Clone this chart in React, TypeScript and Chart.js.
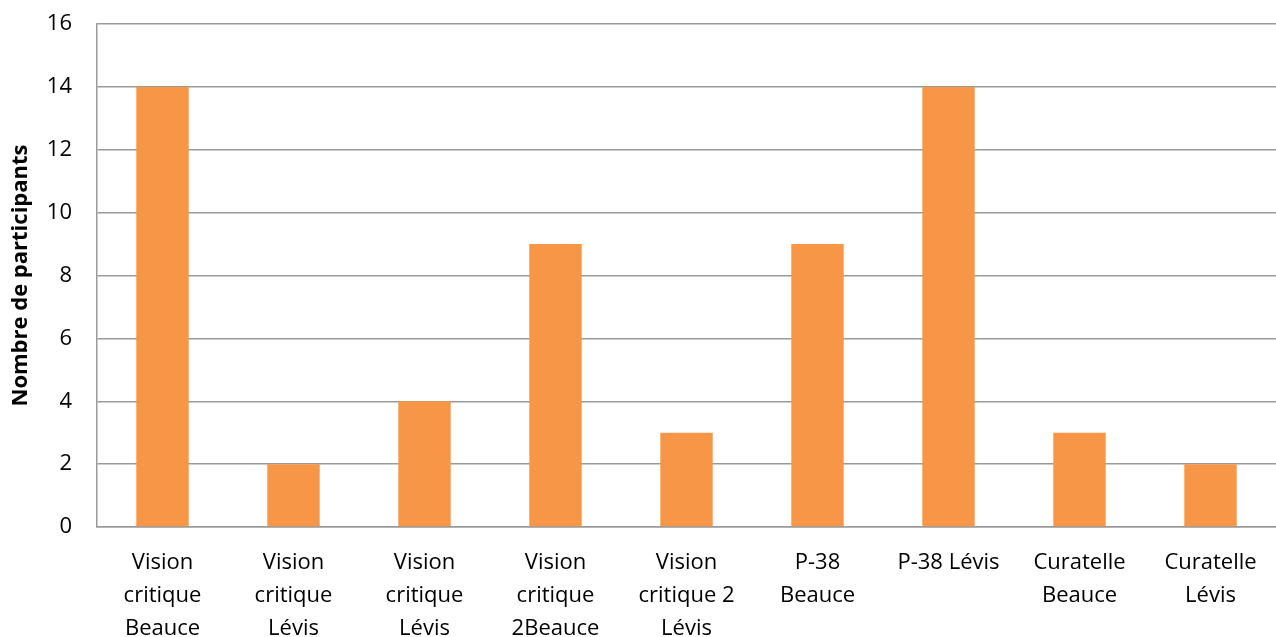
import React, { useEffect, useRef } from "react";
import { Chart, registerables } from "chart.js";

Chart.register(...registerables);

const categories: string[][] = [
  ["Vision", "critique", "Beauce"],
  ["Vision", "critique", "Lévis"],
  ["Vision", "critique", "Lévis"],
  ["Vision", "critique", "2Beauce"],
  ["Vision", "critique 2", "Lévis"],
  ["P-38", "Beauce"],
  ["P-38 Lévis"],
  ["Curatelle", "Beauce"],
  ["Curatelle", "Lévis"],
];
const participants: number[] = [14, 2, 4, 9, 3, 9, 14, 3, 2];
const yTitle = "Nombre de participants";

export default function App() {
  const ref = useRef<HTMLCanvasElement | null>(null);
  useEffect(() => {
    document.body.style.margin = "0";
    if (!ref.current) return;
    const font = "'Open Sans', sans-serif";
    const chart = new Chart(ref.current, {
      type: "bar",
      data: {
        labels: categories,
        datasets: [
          {
            data: participants,
            backgroundColor: "#F79646",
            borderWidth: 0,
            barPercentage: 0.4,
            categoryPercentage: 1,
          },
        ],
      },
      options: {
        responsive: false,
        animation: false,
        layout: { padding: { top: 24, left: 8, right: 0, bottom: 0 } },
        plugins: { legend: { display: false }, tooltip: { enabled: false } },
        scales: {
          x: {
            grid: { display: false, drawTicks: false },
            border: { display: true, color: "#9a9a9a", width: 1.5 },
            ticks: {
              color: "#000",
              font: { family: font, size: 22, lineHeight: 1.5 },
              padding: 19,
              maxRotation: 0,
              autoSkip: false,
            },
            afterFit: (s: any) => {
              s.height = 110;
            },
          },
          y: {
            min: 0,
            max: 16,
            ticks: {
              stepSize: 2,
              color: "#000",
              font: { family: font, size: 22 },
              padding: 25,
            },
            grid: { color: "#9a9a9a", lineWidth: 1.5, drawTicks: false },
            border: { display: true, color: "#9a9a9a", width: 1.5 },
            title: {
              display: true,
              text: yTitle,
              color: "#000",
              font: { family: font, size: 22, weight: "bold" },
              padding: 0,
            },
            afterFit: (s: any) => {
              s.width = 89;
              s.paddingTop = 0;
              s.paddingBottom = 0;
            },
          },
        },
      },
    });
    return () => chart.destroy();
  }, []);
  return <canvas ref={ref} width={1276} height={637} style={{ display: "block" }} />;
}
